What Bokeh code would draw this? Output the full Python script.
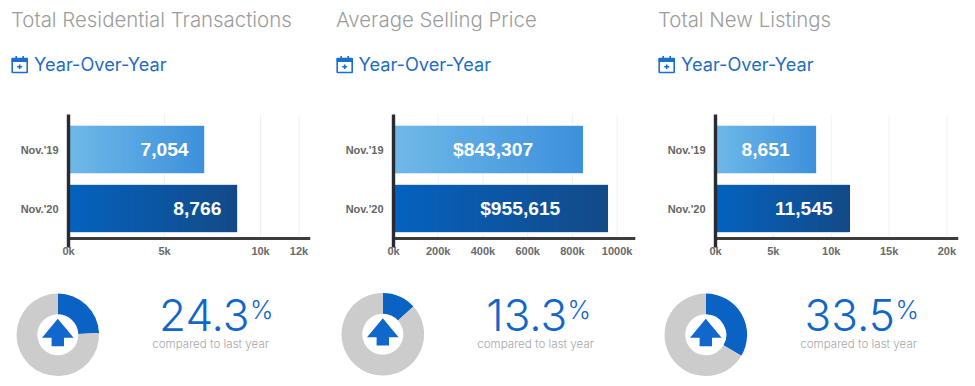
from bokeh.plotting import figure
from bokeh.layouts import row, column
from bokeh.models import Range1d, FixedTicker, LinearAxis
from bokeh.core.properties import value
from bokeh.embed import file_html
from bokeh.resources import INLINE
import math

# ---------- data ----------
periods = ["Nov.'19", "Nov.'20"]
titles = ["Total Residential Transactions", "Average Selling Price", "Total New Listings"]
subtitle = "Year-Over-Year"
transactions = [7054, 8766]
prices = [843307, 955615]
listings = [8651, 11545]
transaction_ticks = [0, 5000, 10000, 12000]
transaction_tick_labels = ["0k", "5k", "10k", "12k"]
price_ticks = [0, 200000, 400000, 600000, 800000, 1000000]
price_tick_labels = ["0k", "200k", "400k", "600k", "800k", "1000k"]
listing_ticks = [0, 5000, 10000, 15000, 20000]
listing_tick_labels = ["0k", "5k", "10k", "15k", "20k"]
changes = [24.3, 13.3, 33.5]
caption = "compared to last year"

# ---------- layout ----------
LIGHT_FONT = "Inter Light"
GREY_TXT = "#9c9c9c"
BLUE_TXT = "#1f6dbf"
BLUE = "#0a63c4"
BASE = 0.37  # the svg text baseline sits this share of the size lower than asked
panels = [
    dict(start=0, width=325, left=68, frame=242, xmax=12600, series=transactions, ticks=transaction_ticks,
         tl=transaction_tick_labels, prefix="", off=[-15.5, -15.5], title_x=10.5, icon_x=11, year_x=33.5,
         cx=57.3, cy=334.3, num_r=249, pct_l=249.5, cap_l=151.7),
    dict(start=325, width=325, left=68, frame=242, xmax=1082000, series=prices, ticks=price_ticks,
         tl=price_tick_labels, prefix="$", off=[-49, -47], title_x=335.5, icon_x=336, year_x=358,
         cx=382.3, cy=333.7, num_r=566.7, pct_l=567, cap_l=476.7),
    dict(start=650, width=325, left=65, frame=243, xmax=21000, series=listings, ticks=listing_ticks,
         tl=listing_tick_labels, prefix="", off=[-26, -16.5], title_x=657.5, icon_x=658, year_x=680.5,
         cx=705.3, cy=334.3, num_r=894.3, pct_l=895, cap_l=799.7),
]
HEAD_H, BAR_H, FOOT_H = 110, 160, 116
GRAD = [(("#6fb8e8"), ("#3d91dc")), (("#0562bf"), ("#134a88"))]


def hex2rgb(h):
    return tuple(int(h[i:i + 2], 16) for i in (1, 3, 5))


def mix(a, b, t):
    ra, rb = hex2rgb(a), hex2rgb(b)
    return "#%02x%02x%02x" % tuple(round(x + (y - x) * t) for x, y in zip(ra, rb))


def blank(w, h, xr, yr):
    p = figure(width=w, height=h, x_range=xr, y_range=yr, output_backend="svg", toolbar_location=None,
               min_border_left=0, min_border_right=0, min_border_top=0, min_border_bottom=0,
               outline_line_color=None, background_fill_color="white", frame_align=False)
    p.axis.visible = False
    p.grid.visible = False
    return p


def head(c, title):
    w, s = c["width"], c["start"]
    p = blank(w, HEAD_H, Range1d(0, w), Range1d(HEAD_H, 0))
    p.text(x=[c["title_x"] - s], y=[26.7 - BASE * 20.4], text=[title], text_font=value(LIGHT_FONT),
           text_font_size="20.4px", text_color=GREY_TXT, text_baseline="alphabetic")
    p.text(x=[c["year_x"] - s], y=[70.7 - BASE * 18.2], text=[subtitle], text_font=value("Inter"),
           text_font_size="18.2px", text_color=BLUE_TXT, text_baseline="alphabetic")
    ix = c["icon_x"] - s + 0.7
    col = "#1a6fd0"
    p.quad(left=[ix], right=[ix + 15], top=[58], bottom=[72], fill_color="white", line_color=col, line_width=1.6)
    p.quad(left=[ix], right=[ix + 15], top=[58], bottom=[61], fill_color=col, line_color=col, line_width=1.2)
    p.segment(x0=[ix + 4, ix + 11, ix + 7.5, ix + 5], y0=[55.5, 55.5, 64, 66.3],
              x1=[ix + 4, ix + 11, ix + 7.5, ix + 10], y1=[59.5, 59.5, 68.6, 66.3], line_color=col, line_width=1.6)
    return p


def bars(c):
    y_top, y_bot = -35 / 59, 1 + 39 / 59
    axis_y = 1 + 30 / 59
    p = figure(width=c["width"], height=BAR_H, x_range=Range1d(0, c["xmax"]), y_range=Range1d(y_bot, y_top),
               output_backend="svg", toolbar_location=None, outline_line_color=None, frame_align=False,
               min_border_left=c["left"], min_border_right=c["width"] - c["left"] - c["frame"],
               min_border_top=4, min_border_bottom=23)
    p.grid.visible = False
    p.segment(x0=c["ticks"][1:], x1=c["ticks"][1:], y0=[y_top] * (len(c["ticks"]) - 1),
              y1=[axis_y] * (len(c["ticks"]) - 1), line_color="#f0f0f0", line_width=1)
    for i, v in enumerate(c["series"]):
        a, b = GRAD[i]
        edge = "#d4e8f7" if i == 0 else "#cfe0f2"
        p.hbar(y=[i], left=[0], right=[v], height=0.8, fill_color=a, line_color=edge, line_width=2)
        n = 48
        lefts = [v * k / n for k in range(n)]
        p.hbar(y=[i] * n, left=lefts, right=[v] * n, height=0.8, line_color=None,
               fill_color=[mix(a, b, k / (n - 1)) for k in range(n)])
        p.text(x=[v], y=[i], text=[f"{c['prefix']}{v:,}"], text_font=value("Liberation Sans"),
               text_font_style="bold", text_font_size="19.2px", text_color="white", text_align="right",
               text_baseline="middle", x_offset=c["off"][i], y_offset=0)
    # tick labels sit under the frame
    xa = p.xaxis[0]
    xa.ticker = FixedTicker(ticks=c["ticks"])
    xa.major_label_overrides = dict(zip(c["ticks"], c["tl"]))
    xa.major_tick_line_color = None
    xa.minor_tick_line_color = None
    xa.axis_line_color = None
    xa.major_label_text_font = "Liberation Sans"
    xa.major_label_text_font_style = "bold"
    xa.major_label_text_font_size = "11px"
    xa.major_label_text_color = "#6a6a6a"
    xa.major_label_standoff = -9
    # the visible axis line crosses the y axis above its lower end
    line = LinearAxis(fixed_location=axis_y, ticker=FixedTicker(ticks=[]), major_tick_line_color=None,
                      minor_tick_line_color=None, axis_line_color="#3c3c3c", axis_line_width=3.2)
    p.add_layout(line, "below")
    ya = p.yaxis[0]
    ya.ticker = FixedTicker(ticks=[0, 1])
    ya.major_label_overrides = {k: lab for k, lab in enumerate(periods)}
    ya.major_tick_line_color = None
    ya.minor_tick_line_color = None
    ya.axis_line_color = "#2a2a34"
    ya.axis_line_width = 3.4
    ya.major_label_text_font = "Liberation Sans"
    ya.major_label_text_font_style = "bold"
    ya.major_label_text_font_size = "11px"
    ya.major_label_text_color = "#666666"
    ya.major_label_standoff = 4
    return p


def foot(c, pct):
    w, s = c["width"], c["start"]
    p = blank(w, FOOT_H, Range1d(0, w), Range1d(0, FOOT_H))
    fx = c["cx"] - s
    fy = 386 - c["cy"]
    top = math.pi / 2
    end = top - 2 * math.pi * pct / 100
    p.annular_wedge(x=[fx], y=[fy], inner_radius=20.5, outer_radius=41.3, start_angle=end, end_angle=top,
                    fill_color=BLUE, line_color=None)
    p.annular_wedge(x=[fx], y=[fy], inner_radius=20.5, outer_radius=41.3, start_angle=top, end_angle=end + 2 * math.pi,
                    fill_color="#cccccc", line_color=None)
    p.patch(x=[fx, fx + 15.8, fx + 6.2, fx + 6.2, fx - 6.2, fx - 6.2, fx - 15.8],
            y=[fy + 16, fy - 3, fy - 3, fy - 11.4, fy - 11.4, fy - 3, fy - 3], fill_color="#1168cc", line_color=None)
    p.text(x=[c["num_r"] - s], y=[386 - 331 + BASE * 44], text=[f"{pct}"], text_font=value(LIGHT_FONT),
           text_font_size="44px", text_color="#1166c8", text_align="right", text_baseline="alphabetic")
    p.text(x=[c["pct_l"] - s], y=[386 - 318.5 + BASE * 25], text=["%"], text_font=value(LIGHT_FONT),
           text_font_size="25px", text_color="#1166c8", text_baseline="alphabetic")
    p.text(x=[c["cap_l"] - s], y=[386 - 347.7 + BASE * 11.6], text=[caption], text_font=value(LIGHT_FONT),
           text_font_size="11.6px", text_color="#a8a8a8", text_baseline="alphabetic")
    return p


cols = [column(head(c, t), bars(c), foot(c, pct), spacing=0) for c, t, pct in zip(panels, titles, changes)]
page = row(*cols, spacing=0)
open("out.html", "w").write(file_html(page, INLINE))
